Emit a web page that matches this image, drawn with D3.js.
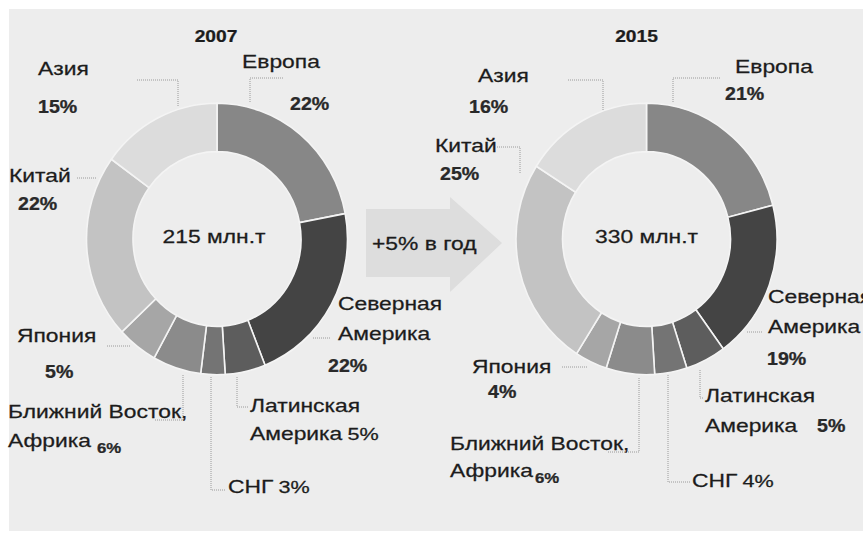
<!DOCTYPE html>
<html>
<head>
<meta charset="utf-8">
<script src="https://cdn.jsdelivr.net/npm/d3@7.9.0/dist/d3.min.js"></script>
<style>
  body { margin: 0; background: #fff; }
  text { font-family: "Liberation Sans", Arial, sans-serif; fill: #1c1c1c; stroke: #1c1c1c; stroke-width: 0.25px; }
</style>
</head>
<body>
<svg id="chart" width="863" height="533"></svg>
<script>
const regions = ['Европа', 'Северная Америка', 'Латинская Америка', 'СНГ',
  'Ближний Восток, Африка', 'Япония', 'Китай', 'Азия'];
const share2007 = [22, 22, 5, 3, 6, 5, 22, 15];
const share2015 = [21, 19, 5, 4, 6, 4, 25, 16];
const years = ['2007', '2015'];
const totals = [215, 330];
const growth = '+5% в год';
const shades = ['#878787', '#444444', '#5d5d5d', '#747474', '#8b8b8b', '#a6a6a6', '#c3c3c3', '#dcdcdc'];

// label layout per donut: name lines, where the percent goes, dotted leader
const layouts = [
  [
    { lines: [[242, 68, 'Европа']], pct: [290, 110], leader: [[283, 78], [250, 78], [250, 103]] },
    { lines: [[338, 310, 'Северная'], [338, 340, 'Америка']], pct: [328, 372], leader: [[313, 338], [330, 338]] },
    { lines: [[250, 412, 'Латинская'], [250, 440, 'Америка']], pct: 'inline', leader: [[237, 377], [237, 407], [248, 407]] },
    { lines: [[228, 493, 'СНГ']], pct: 'inline', leader: [[211, 377], [211, 490], [226, 490]] },
    { lines: [[8, 418, 'Ближний Восток,'], [8, 447, 'Африка']], pct: [97, 453], small: true, leader: [[183, 375], [183, 420], [155, 420]] },
    { lines: [[17, 342, 'Япония']], pct: [45, 378], leader: [[107, 346], [130, 346]] },
    { lines: [[9, 182, 'Китай']], pct: [18, 210], leader: [[77, 178], [97, 178]] },
    { lines: [[38, 75, 'Азия']], pct: [38, 113], leader: [[137, 80], [178, 80], [178, 107]] }
  ],
  [
    { lines: [[735, 73, 'Европа']], pct: [725, 100], leader: [[720, 78], [673, 78], [673, 103]] },
    { lines: [[768, 303, 'Северная'], [768, 333, 'Америка']], pct: [767, 365], leader: [[747, 332], [763, 332]] },
    { lines: [[705, 402, 'Латинская'], [705, 432, 'Америка']], pct: [817, 432], leader: [[700, 370], [700, 398], [704, 398]] },
    { lines: [[692, 487, 'СНГ']], pct: 'inline', leader: [[668, 375], [668, 482], [690, 482]] },
    { lines: [[450, 450, 'Ближний Восток,'], [450, 477, 'Африка']], pct: [535, 483], small: true, leader: [[639, 378], [639, 452], [608, 452]] },
    { lines: [[472, 373, 'Япония']], pct: [488, 398], leader: [[562, 367], [587, 367]] },
    { lines: [[435, 152, 'Китай']], pct: [440, 180], leader: [[497, 147], [520, 147], [520, 173]] },
    { lines: [[478, 82, 'Азия']], pct: [469, 113], leader: [[568, 80], [603, 80], [603, 110]] }
  ]
];

const svg = d3.select('#chart');
svg.append('rect').attr('x', 9).attr('y', 9).attr('width', 854).attr('height', 522).attr('fill', '#ededed');

const stretch = 1.27;
function label(x, y, str, opts = {}) {
  return svg.append('text')
    .attr('transform', `translate(${x},${y}) scale(${opts.sx || stretch},1)`)
    .attr('text-anchor', opts.anchor || 'start')
    .attr('font-size', opts.size || 18)
    .attr('font-weight', opts.bold ? 'bold' : null)
    .text(str);
}

// arrow between the two donuts
const arrowPts = [[366, 209], [450, 209], [450, 197], [502, 243], [450, 292], [450, 277], [366, 277]];
svg.append('path')
  .attr('d', d3.line()(arrowPts) + 'Z')
  .attr('fill', '#dddddd');
label(372, 250, growth, { size: 18 });

const centers = [217, 646.5];
const cy = 239;
let arcGen = d3.arc().innerRadius(84).outerRadius(130.5);
let pie = d3.pie().sort(null).value((d) => d);

[share2007, share2015].forEach((shares, ci) => {
  const g = svg.append('g').attr('transform', `translate(${centers[ci]},${cy}) scale(1,1.04)`);
  g.selectAll('path')
    .data(pie(shares))
    .join('path')
    .attr('d', arcGen)
    .attr('fill', (d, i) => shades[i])
    .attr('stroke', '#f4f4f4')
    .attr('stroke-width', 1.6);

  label(centers[ci] - 3 + ci * 3, 243, `${totals[ci]} млн.т`, { anchor: 'middle', size: 18 });
  label(centers[ci] - 1 - ci * 9, 42, years[ci], { anchor: 'middle', size: 16, bold: true, sx: 1.2 });

  layouts[ci].forEach((lay, i) => {
    svg.append('path')
      .attr('d', d3.line()(lay.leader))
      .attr('fill', 'none')
      .attr('stroke', '#9a9a9a')
      .attr('stroke-width', 1)
      .attr('stroke-dasharray', '1,1');
    let last;
    lay.lines.forEach(([x, y, s]) => { last = label(x, y, s); });
    const pctText = `${shares[i]}%`;
    if (lay.pct === 'inline') {
      last.append('tspan').attr('dx', 4).attr('font-size', 17).text(pctText);
    } else {
      label(lay.pct[0], lay.pct[1], pctText, { size: lay.small ? 15 : 17.5, bold: true, sx: 1.12 })
        .style('fill', '#2a2a2a');
    }
  });
});
</script>
</body>
</html>
